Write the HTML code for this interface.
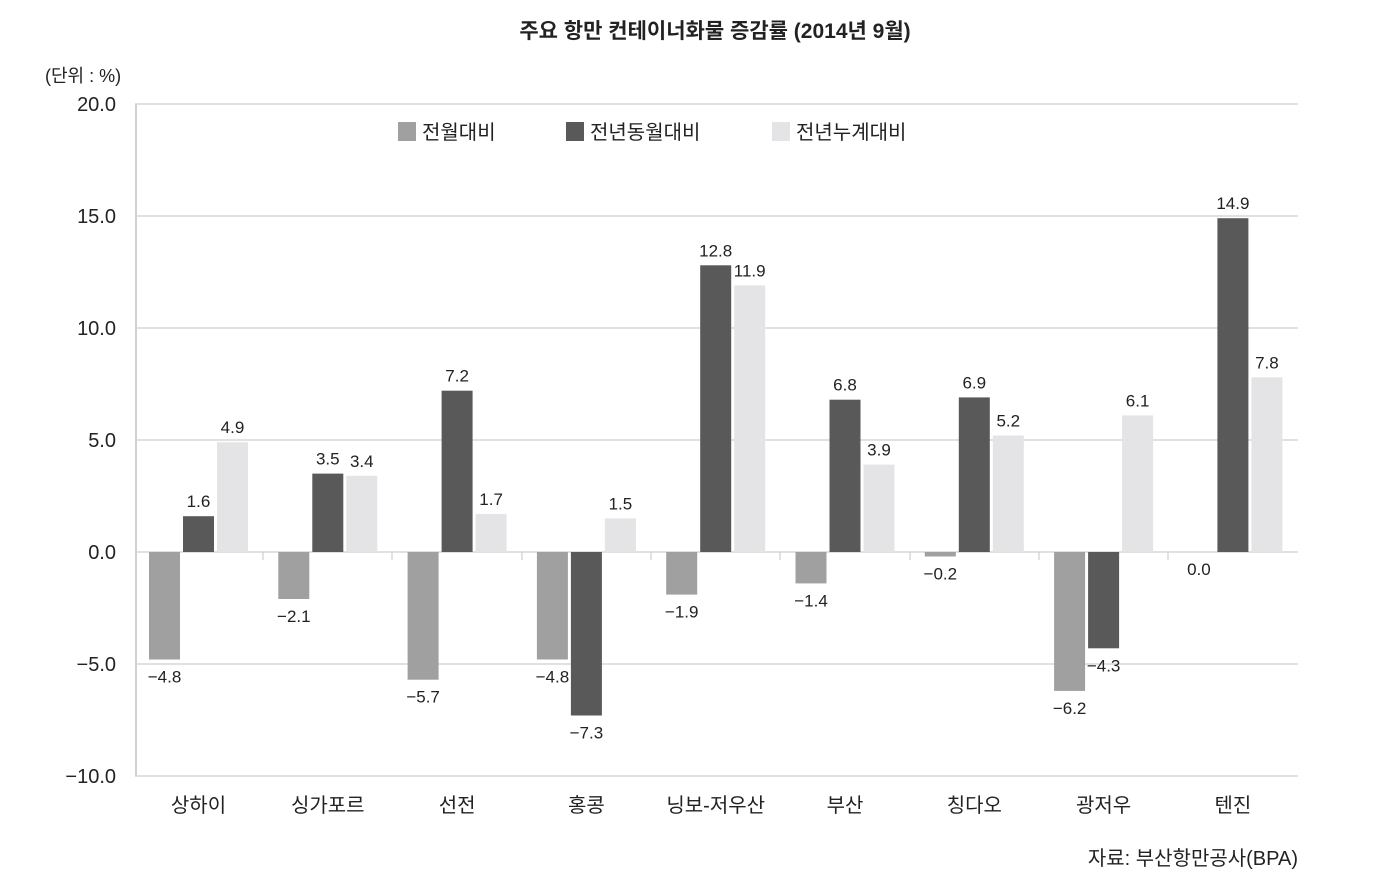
<!DOCTYPE html>
<html><head><meta charset="utf-8"><style>
body{margin:0;background:#fff}
text{font-family:"Liberation Sans","Noto Sans CJK KR",sans-serif;fill:#222}
.a{fill:#a0a0a0}.b{fill:#595959}.c{fill:#e4e4e6}
</style></head><body>
<svg width="1387" height="877" xmlns="http://www.w3.org/2000/svg">
<text x="715" y="38" text-anchor="middle" font-size="21" font-weight="bold">주요 항만 컨테이너화물 증감률 (2014년 9월)</text>
<text x="45" y="82" font-size="18">(단위 : %)</text>
<g stroke="#cfcfcf" stroke-width="1.2">
<line x1="135" y1="104" x2="1298" y2="104"/>
<line x1="135" y1="216" x2="1298" y2="216"/>
<line x1="135" y1="328" x2="1298" y2="328"/>
<line x1="135" y1="440" x2="1298" y2="440"/>
<line x1="135" y1="552" x2="1298" y2="552"/>
<line x1="135" y1="664" x2="1298" y2="664"/>
<line x1="135" y1="776" x2="1298" y2="776"/>
<line x1="263" y1="552" x2="263" y2="560"/><line x1="392" y1="552" x2="392" y2="560"/>
<line x1="522" y1="552" x2="522" y2="560"/><line x1="651" y1="552" x2="651" y2="560"/>
<line x1="780" y1="552" x2="780" y2="560"/><line x1="910" y1="552" x2="910" y2="560"/>
<line x1="1039" y1="552" x2="1039" y2="560"/><line x1="1168" y1="552" x2="1168" y2="560"/>
</g>
<line x1="136" y1="104" x2="136" y2="776" stroke="#d0d0d0" stroke-width="2"/>
<g font-size="20" text-anchor="end">
<text x="116" y="111">20.0</text><text x="116" y="223">15.0</text><text x="116" y="335">10.0</text>
<text x="116" y="447">5.0</text><text x="116" y="559">0.0</text><text x="116" y="671">−5.0</text><text x="116" y="783">−10.0</text>
</g>
<rect x="398" y="122" width="18" height="19" class="a"/><text x="422" y="139" font-size="20">전월대비</text>
<rect x="566" y="122" width="18" height="19" class="b"/><text x="590" y="139" font-size="20">전년동월대비</text>
<rect x="772" y="122" width="18" height="19" class="c"/><text x="796" y="139" font-size="20">전년누계대비</text>

<rect x="149" y="552" width="31" height="107.5" class="a"/>
<rect x="183" y="516.2" width="31" height="35.8" class="b"/>
<rect x="217" y="442.2" width="31" height="109.8" class="c"/>
<rect x="278.3" y="552" width="31" height="47" class="a"/>
<rect x="312.3" y="473.6" width="31" height="78.4" class="b"/>
<rect x="346.3" y="475.8" width="31" height="76.2" class="c"/>
<rect x="407.6" y="552" width="31" height="127.7" class="a"/>
<rect x="441.6" y="390.7" width="31" height="161.3" class="b"/>
<rect x="475.6" y="513.9" width="31" height="38.1" class="c"/>
<rect x="536.9" y="552" width="31" height="107.5" class="a"/>
<rect x="570.9" y="552" width="31" height="163.5" class="b"/>
<rect x="604.9" y="518.4" width="31" height="33.6" class="c"/>
<rect x="666.2" y="552" width="31" height="42.6" class="a"/>
<rect x="700.2" y="265.3" width="31" height="286.7" class="b"/>
<rect x="734.2" y="285.4" width="31" height="266.6" class="c"/>
<rect x="795.5" y="552" width="31" height="31.4" class="a"/>
<rect x="829.5" y="399.7" width="31" height="152.3" class="b"/>
<rect x="863.5" y="464.6" width="31" height="87.4" class="c"/>
<rect x="924.8" y="552" width="31" height="4.5" class="a"/>
<rect x="958.8" y="397.4" width="31" height="154.6" class="b"/>
<rect x="992.8" y="435.5" width="31" height="116.5" class="c"/>
<rect x="1054.1" y="552" width="31" height="138.9" class="a"/>
<rect x="1088.1" y="552" width="31" height="96.3" class="b"/>
<rect x="1122.1" y="415.4" width="31" height="136.6" class="c"/>
<rect x="1217.4" y="218.2" width="31" height="333.8" class="b"/>
<rect x="1251.4" y="377.3" width="31" height="174.7" class="c"/>

<g font-size="17" text-anchor="middle">
<text x="164.5" y="682.5">−4.8</text><text x="198.5" y="507.2">1.6</text><text x="232.5" y="433.2">4.9</text>
<text x="293.8" y="622">−2.1</text><text x="327.8" y="464.6">3.5</text><text x="361.8" y="466.8">3.4</text>
<text x="423.1" y="702.7">−5.7</text><text x="457.1" y="381.7">7.2</text><text x="491.1" y="504.9">1.7</text>
<text x="552.4" y="682.5">−4.8</text><text x="586.4" y="738.5">−7.3</text><text x="620.4" y="509.4">1.5</text>
<text x="681.7" y="617.6">−1.9</text><text x="715.7" y="256.3">12.8</text><text x="749.7" y="276.4">11.9</text>
<text x="811" y="606.4">−1.4</text><text x="845" y="390.7">6.8</text><text x="879" y="455.6">3.9</text>
<text x="940.3" y="579.5">−0.2</text><text x="974.3" y="388.4">6.9</text><text x="1008.3" y="426.5">5.2</text>
<text x="1069.6" y="713.9">−6.2</text><text x="1103.6" y="671.3">−4.3</text><text x="1137.6" y="406.4">6.1</text>
<text x="1198.9" y="575">0.0</text><text x="1232.9" y="209.2">14.9</text><text x="1266.9" y="368.3">7.8</text>
</g>
<g font-size="20" text-anchor="middle">
<text x="198.5" y="812">상하이</text><text x="327.8" y="812">싱가포르</text><text x="457.1" y="812">선전</text>
<text x="586.4" y="812">홍콩</text><text x="715.7" y="812">닝보-저우산</text><text x="845" y="812">부산</text>
<text x="974.3" y="812">칭다오</text><text x="1103.6" y="812">광저우</text><text x="1232.9" y="812">텐진</text>
</g>
<text x="1298" y="865" text-anchor="end" font-size="20">자료: 부산항만공사(BPA)</text>
</svg>
</body></html>
